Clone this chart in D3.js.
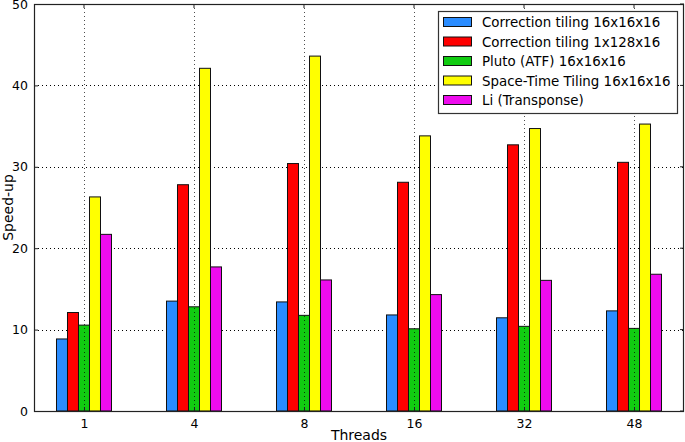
<!DOCTYPE html>
<html>
<head>
<meta charset="utf-8">
<script src="https://d3js.org/d3.v7.min.js"></script>
<style>
  body { margin: 0; background: #fff; }
  text { font-family: "DejaVu Sans", sans-serif; }
</style>
</head>
<body>
<script>
// threads on the x axis
var threads = ["1", "4", "8", "16", "32", "48"];

var seriesNames = [
  "Correction tiling 16x16x16",
  "Correction tiling 1x128x16",
  "Pluto (ATF) 16x16x16",
  "Space-Time Tiling 16x16x16",
  "Li (Transponse)"
];

var corr16 = [8.85, 13.5, 13.4, 11.8, 11.45, 12.3];
var corr128 = [12.1, 27.8, 30.4, 28.1, 32.7, 30.55];
var pluto = [10.55, 12.8, 11.75, 10.1, 10.4, 10.15];
var spaceTime = [26.3, 42.1, 43.6, 33.8, 34.7, 35.25];
var li = [21.7, 17.7, 16.1, 14.3, 16.05, 16.8];

var yTicks = [0, 10, 20, 30, 40, 50];

var series = [corr16, corr128, pluto, spaceTime, li];
var colors = ["#2a8cff", "#ff0000", "#11cc11", "#ffff00", "#ee0cee"];

var width = 685, height = 442;
var margin = {left: 34, right: 1, top: 4, bottom: 31};

var svg = d3.select("body").append("svg")
  .attr("width", width)
  .attr("height", height);

var x = d3.scalePoint()
  .domain(threads)
  .range([margin.left, width - margin.right])
  .padding(0.4545);

var step = x.step();
var barW = step * 0.1;

var y = d3.scaleLinear()
  .domain([0, 50])
  .range([height - margin.bottom, margin.top]);

var plotLeft = margin.left, plotRight = width - margin.right;
var plotTop = margin.top, plotBottom = height - margin.bottom;

// horizontal grid, under the bars
svg.append("g")
  .selectAll("line")
  .data(yTicks.slice(1, -1))
  .enter().append("line")
  .attr("x1", plotLeft)
  .attr("x2", plotRight)
  .attr("y1", function(d) { return Math.round(y(d)) + 0.5; })
  .attr("y2", function(d) { return Math.round(y(d)) + 0.5; })
  .style("stroke", "#000")
  .style("stroke-width", 1)
  .style("stroke-dasharray", "1,3");

// bars
series.forEach(function(vals, s) {
  svg.append("g")
    .selectAll("rect")
    .data(vals)
    .enter().append("rect")
    .attr("x", function(d, i) { return x(threads[i]) + (s - 2.5) * barW; })
    .attr("y", function(d) { return y(d); })
    .attr("width", barW)
    .attr("height", function(d) { return y(0) - y(d); })
    .style("fill", colors[s])
    .style("stroke", "#111")
    .style("stroke-width", 1);
});

// vertical grid, drawn on top
svg.append("g")
  .selectAll("line")
  .data(threads)
  .enter().append("line")
  .attr("x1", function(d) { return Math.round(x(d)) + 0.5; })
  .attr("x2", function(d) { return Math.round(x(d)) + 0.5; })
  .attr("y1", plotTop)
  .attr("y2", plotBottom)
  .style("stroke", "#000")
  .style("stroke-width", 1)
  .style("stroke-dasharray", "1,3")
  .style("stroke-opacity", 0.7);

// frame
svg.append("rect")
  .attr("x", plotLeft + 0.5)
  .attr("y", plotTop + 0.5)
  .attr("width", plotRight - plotLeft - 1)
  .attr("height", plotBottom - plotTop)
  .style("fill", "none")
  .style("stroke", "#222")
  .style("stroke-width", 1.2);

// axes with inward ticks
var xAxis = d3.axisBottom(x).tickSizeInner(-4).tickSizeOuter(0).tickPadding(8);
var gx = svg.append("g")
  .attr("transform", "translate(0," + plotBottom + ")")
  .call(xAxis);
gx.select(".domain").remove();

var yAxis = d3.axisLeft(y).tickValues(yTicks).tickSizeInner(-4).tickSizeOuter(0).tickPadding(6);
var gy = svg.append("g")
  .attr("transform", "translate(" + plotLeft + ",0)")
  .call(yAxis);
gy.select(".domain").remove();

svg.selectAll(".tick text")
  .style("font-family", "DejaVu Sans")
  .style("font-size", "12.5px")
  .style("fill", "#000");
svg.selectAll(".tick line").style("stroke", "#222");

// right side ticks
svg.append("g")
  .selectAll("line")
  .data(yTicks)
  .enter().append("line")
  .attr("x1", plotRight)
  .attr("x2", plotRight - 4)
  .attr("y1", function(d) { return y(d); })
  .attr("y2", function(d) { return y(d); })
  .style("stroke", "#222");

// top ticks
svg.append("g")
  .selectAll("line")
  .data(threads)
  .enter().append("line")
  .attr("x1", function(d) { return x(d); })
  .attr("x2", function(d) { return x(d); })
  .attr("y1", plotTop)
  .attr("y2", plotTop + 4)
  .style("stroke", "#222");

// axis labels
svg.append("text")
  .attr("x", (plotLeft + plotRight) / 2)
  .attr("y", 439.5)
  .attr("text-anchor", "middle")
  .style("font-size", "14px")
  .text("Threads");

svg.append("text")
  .attr("transform", "translate(13," + (plotTop + plotBottom) / 2 + ") rotate(-90)")
  .attr("text-anchor", "middle")
  .style("font-size", "14px")
  .text("Speed-up");

// legend
var legend = svg.append("g");
legend.append("rect")
  .attr("x", 438.5)
  .attr("y", 11.5)
  .attr("width", 239)
  .attr("height", 102)
  .style("fill", "#fff")
  .style("stroke", "#333")
  .style("stroke-width", 1.2);

var rows = legend.selectAll(".row")
  .data(seriesNames)
  .enter().append("g")
  .attr("transform", function(d, i) { return "translate(0," + (22 + i * 19.5) + ")"; });

rows.append("rect")
  .attr("x", 443.5)
  .attr("y", -4.5)
  .attr("width", 28)
  .attr("height", 9)
  .style("fill", function(d, i) { return colors[i]; })
  .style("stroke", "#111");

rows.append("text")
  .attr("x", 482)
  .attr("y", 5)
  .style("font-size", "13.4px")
  .text(function(d) { return d; });
</script>
</body>
</html>
